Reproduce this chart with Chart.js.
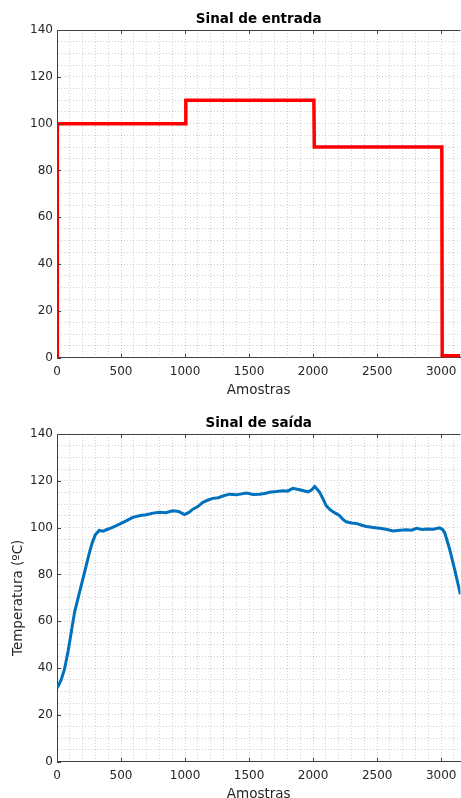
<!DOCTYPE html>
<html>
<head>
<meta charset="utf-8">
<script src="https://cdn.jsdelivr.net/npm/chart.js@4.4.1/dist/chart.umd.min.js"></script>
<style>
    html, body { margin: 0; padding: 0; background: #ffffff; overflow: hidden; }
    .box { position: absolute; left: 0; width: 461px; height: 405px; }
</style>
</head>
<body>
<div class="box" style="top:0px"><canvas id="chartEntrada" width="461" height="405"></canvas></div>
<div class="box" style="top:404px"><canvas id="chartSaida" width="461" height="405"></canvas></div>
<script>
// Input signal (step setpoint)
const entradaX = [0, 3, 1003, 1006, 2006, 2009, 3005, 3008, 3150];
const entradaY = [0, 100, 100, 110, 110, 90, 90, 0.8, 0.8];

// Output signal (temperature)
const saidaX = [0, 15, 33, 58, 85, 111, 137, 176, 215, 254, 275, 300, 330, 360, 390, 430, 488, 540, 592, 650,
    697, 750, 800, 850, 902, 950, 995, 1030, 1061, 1100, 1139, 1180, 1217, 1260, 1300, 1348, 1400, 1478, 1530,
    1582, 1620, 1660, 1710, 1764, 1800, 1842, 1895, 1959, 1990, 2012, 2030, 2051, 2080, 2103, 2130, 2155, 2180,
    2207, 2235, 2259, 2300, 2337, 2380, 2416, 2470, 2520, 2570, 2623, 2680, 2728, 2770, 2806, 2850, 2884, 2940,
    2988, 3010, 3027, 3066, 3105, 3150];
const saidaY = [31.5, 33, 35, 39.4, 46.7, 55.2, 63.8, 72.4, 80.9, 89.5, 93.5, 97, 98.8, 98.5, 99.2, 100, 101.5, 102.9, 104.4, 105.2,
    105.5, 106.2, 106.6, 106.4, 107.2, 106.9, 105.6, 106.5, 107.9, 109, 110.8, 111.8, 112.5, 112.8, 113.6, 114.3, 114, 114.8, 114.2,
    114.3, 114.6, 115.1, 115.4, 115.8, 115.6, 116.8, 116.2, 115.3, 116.2, 117.6, 116.5, 115.1, 112, 109.3, 107.8, 106.8, 106,
    105.1, 103.4, 102.5, 102, 101.8, 101, 100.5, 100.1, 99.7, 99.3, 98.6, 98.9, 99.1, 98.9, 99.7, 99.2, 99.4, 99.3,
    99.9, 99.2, 97.9, 90.8, 82.2, 71.5];

// Axis ticks
const xMajorTicks = [0, 500, 1000, 1500, 2000, 2500, 3000];
const yMajorTicks = [0, 20, 40, 60, 80, 100, 120, 140];

const axisColor = '#404040';
const textColor = '#262626';
const gridColor = 'rgba(38,38,38,0.22)';

// Draw the box top line and the inner tick marks like matlab does
const boxTicksPlugin = {
    id: 'boxTicks',
    afterDatasetsDraw(chart) {
        const ctx = chart.ctx;
        const area = chart.chartArea;
        const xs = chart.scales.x;
        const ys = chart.scales.y;
        ctx.save();
        ctx.strokeStyle = axisColor;
        ctx.lineWidth = 1;
        ctx.beginPath();
        ctx.moveTo(area.left, Math.round(area.top) + 0.5);
        ctx.lineTo(area.right, Math.round(area.top) + 0.5);
        xMajorTicks.forEach((v) => {
            const px = Math.round(xs.getPixelForValue(v)) + 0.5;
            ctx.moveTo(px, area.bottom);
            ctx.lineTo(px, area.bottom - 4);
            ctx.moveTo(px, area.top);
            ctx.lineTo(px, area.top + 4);
        });
        yMajorTicks.forEach((v) => {
            const py = Math.round(ys.getPixelForValue(v)) + 0.5;
            ctx.moveTo(area.left, py);
            ctx.lineTo(area.left + 4, py);
        });
        ctx.stroke();
        ctx.restore();
    },
};

function makeChart(canvasId, title, xs, ys, color, lineWidth, yTitle) {
    const points = xs.map((x, i) => ({ x: x, y: ys[i] }));
    const ctx = document.getElementById(canvasId).getContext('2d');
    return new Chart(ctx, {
        type: 'line',
        data: {
            datasets: [
                {
                    data: points,
                    borderColor: color,
                    borderWidth: lineWidth,
                    pointRadius: 0,
                    tension: 0,
                    fill: false,
                },
            ],
        },
        options: {
            responsive: false,
            animation: false,
            layout: { padding: 0 },
            plugins: {
                legend: { display: false },
                tooltip: { enabled: false },
                title: {
                    display: true,
                    text: title,
                    fullSize: false, // center over the plot area
                    color: '#000000',
                    font: { family: 'DejaVu Sans', size: 13.5, weight: 'bold' },
                    padding: { top: 11, bottom: 2.8 },
                },
            },
            scales: {
                x: {
                    type: 'linear',
                    min: 0,
                    max: 3150,
                    afterFit: (scale) => { scale.height = 47.3; },
                    ticks: {
                        stepSize: 100,
                        includeBounds: false,
                        autoSkip: false,
                        maxRotation: 0,
                        padding: 7,
                        color: textColor,
                        font: { family: 'DejaVu Sans', size: 12 },
                        callback: (v) => (v % 500 === 0 ? String(v) : ''),
                    },
                    grid: { color: gridColor, drawTicks: false },
                    border: { color: axisColor, dash: [1, 2] },
                    title: {
                        display: true,
                        text: 'Amostras',
                        color: textColor,
                        font: { family: 'DejaVu Sans', size: 13.5 },
                        padding: { top: 0, bottom: 6.9 },
                    },
                },
                y: {
                    min: 0,
                    max: 140,
                    afterFit: (scale) => { scale.width = 57; },
                    ticks: {
                        stepSize: 5,
                        autoSkip: false,
                        padding: 4,
                        color: textColor,
                        font: { family: 'DejaVu Sans', size: 12 },
                        callback: (v) => (v % 20 === 0 ? String(v) : ''),
                    },
                    grid: { color: gridColor, drawTicks: false },
                    border: { color: axisColor, dash: [1, 2] },
                    title: {
                        display: !!yTitle,
                        text: yTitle || '',
                        color: textColor,
                        font: { family: 'DejaVu Sans', size: 13.5 },
                        padding: { top: 10.4, bottom: 0 },
                    },
                },
            },
        },
        plugins: [boxTicksPlugin],
    });
}

makeChart('chartEntrada', 'Sinal de entrada', entradaX, entradaY, '#ff0000', 3.5, null);
makeChart('chartSaida', 'Sinal de saída', saidaX, saidaY, '#0072bd', 3, 'Temperatura (ºC)');
</script>
</body>
</html>
